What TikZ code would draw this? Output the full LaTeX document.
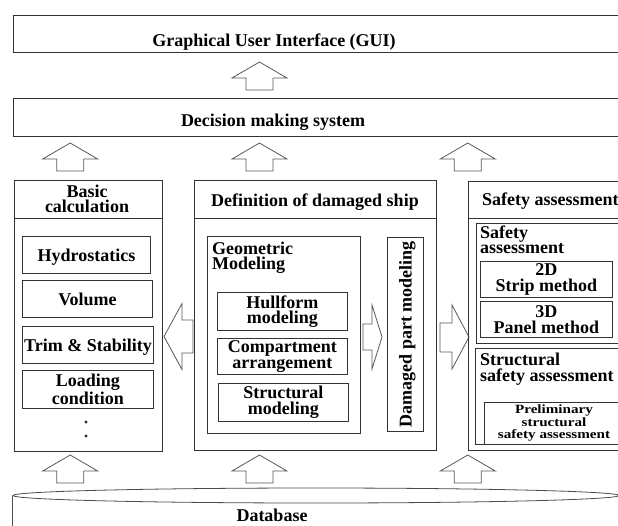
\documentclass[tikz,border=0pt]{standalone}
\usepackage{fontspec}
\setmainfont{Liberation Serif}
\newfontfamily\widefont{Liberation Serif}[FakeStretch=1.2]
\usetikzlibrary{calc,shapes.geometric}
\tikzset{
  ln/.style={draw=black!80, line width=0.9pt},
  arr/.style={draw=black!65, line width=0.8pt, fill=white},
  lbl/.style={font=\fontsize{18}{15.5}\selectfont\bfseries, inner sep=0pt},
  box/.style={ln, rectangle, anchor=north west, inner sep=0pt, align=center,
              font=\fontsize{18}{15.5}\selectfont\bfseries},
  onebox/.style={box, text height=13pt, text depth=0pt},
  twobox/.style={box},
  corner/.style={anchor=north west, inner sep=0pt, align=left,
                 font=\fontsize{18}{15.5}\selectfont\bfseries},
}
\newcommand\blockup[2]{\draw[arr] (#1,#2) -- ++(27.5,16) -- ++(-14,0) -- ++(0,12)
  -- ++(-27,0) -- ++(0,-12) -- ++(-14,0) -- cycle;}
\begin{document}
\begin{tikzpicture}[x=1pt,y=-1pt]
\useasboundingbox (0,0) rectangle (618,525);
\clip (0,0) rectangle (618,525);

% top bars
\node[box, minimum width=640, minimum height=37] (gui) at (13,15) {};
\node[lbl, anchor=base] (guitxt) at (274,46) {Graphical User Interface (GUI)};
\node[box, minimum width=640, minimum height=38] (dms) at (13,98) {};
\node[lbl, anchor=base] (dmstxt) at (273,126) {Decision making system};

% up arrows
\blockup{259.5}{62}
\blockup{70.2}{143}
\blockup{259.5}{143}
\blockup{467.8}{143}
\blockup{70.2}{455}
\blockup{259.5}{455}
\blockup{467.8}{455}

% left panel
\node[box, minimum width=148, minimum height=271] (lp) at (14,180) {};
\draw[ln] (14,218) -- (162,218);
\node[lbl, align=center] (lptitle) at (87,199) {Basic\\calculation};
\node[onebox, minimum width=128, minimum height=37] (hyd) at (22,236) {Hydrostatics};
\node[onebox, minimum width=130, minimum height=37] (vol) at (22,280) {Volume};
\node[onebox, minimum width=131, minimum height=37] (trim) at (22,326) {Trim \& Stability};
\node[twobox, minimum width=131, minimum height=38] (load) at (22,370) {Loading\\condition};
\fill[black!85] (86,422) circle (1.7);
\fill[black!85] (86,436) circle (1.7);

% arrow middle -> left
\draw[arr] (164,336.5) -- ++(18,-33) -- ++(0,16.5) -- ++(11,0) -- ++(0,33) -- ++(-11,0) -- ++(0,16.5) -- cycle;

% middle panel
\node[box, minimum width=242, minimum height=270] (mp) at (194,180) {};
\draw[ln] (194,218) -- (436,218);
\node[lbl, text height=13pt, text depth=0pt] (mptitle) at (315,199.5) {Definition of damaged ship};
\node[box, minimum width=153, minimum height=197] (geo) at (207,236) {};
\node[corner] (geotxt) at (212,241.5) {Geometric\\Modeling};
\node[twobox, minimum width=130, minimum height=38] (hull) at (217,292) {Hullform\\modeling};
\node[twobox, minimum width=130, minimum height=36] (comp) at (217,338) {Compartment\\arrangement};
\node[twobox, minimum width=130, minimum height=38] (strm) at (218,383) {Structural\\modeling};
\node[ln, rectangle, inner sep=0pt, rotate=90, minimum width=194, minimum height=36,
      text height=13pt, text depth=0pt, font=\fontsize{18}{15}\selectfont\bfseries]
      (dmg) at (405,334) {Damaged part modeling};
% arrow geo -> damaged
\draw[arr] (363,324) -- (372,324) -- (372,305) -- (382,337) -- (372,369) -- (372,350) -- (363,350) -- cycle;

% arrow middle -> right
\draw[arr] (440,323) -- (452,323) -- (452,305) -- (469,337) -- (452,369) -- (452,352) -- (440,352) -- cycle;

% right panel
\node[box, minimum width=180, minimum height=269] (rp) at (468,181) {};
\draw[ln] (468,218) -- (648,218);
\node[lbl, anchor=base west] (rptitle) at (482,205) {Safety assessment};
\node[box, minimum width=170, minimum height=120] (safe) at (476,223) {};
\node[corner] (safetxt) at (480,225.5) {Safety\\assessment};
\node[twobox, minimum width=132, minimum height=36] (strip) at (480,261) {2D\\Strip method};
\node[twobox, minimum width=132, minimum height=36] (panel) at (480,301) {3D\\Panel method};
\node[box, minimum width=170, minimum height=96] (ssa) at (475,348) {};
\node[corner] (ssatxt) at (480,353) {Structural\\safety assessment};
\node[box, minimum width=144, minimum height=42] (pre) at (484,402) {};
\node[inner sep=0pt, align=center, font=\fontsize{12.6}{12.5}\selectfont\widefont\bfseries] (pretxt) at (554,423) {Preliminary\\structural\\safety assessment};

% database
\node[draw=black!70, line width=0.8pt, ellipse, inner sep=0pt, minimum width=606, minimum height=15] (db) at (316,495.5) {};
\draw[draw=black!70, line width=0.8pt] (db.west) -- ++(0,40);
\node[lbl, anchor=base] (dbtxt) at (272,521) {Database};
\end{tikzpicture}
\end{document}
